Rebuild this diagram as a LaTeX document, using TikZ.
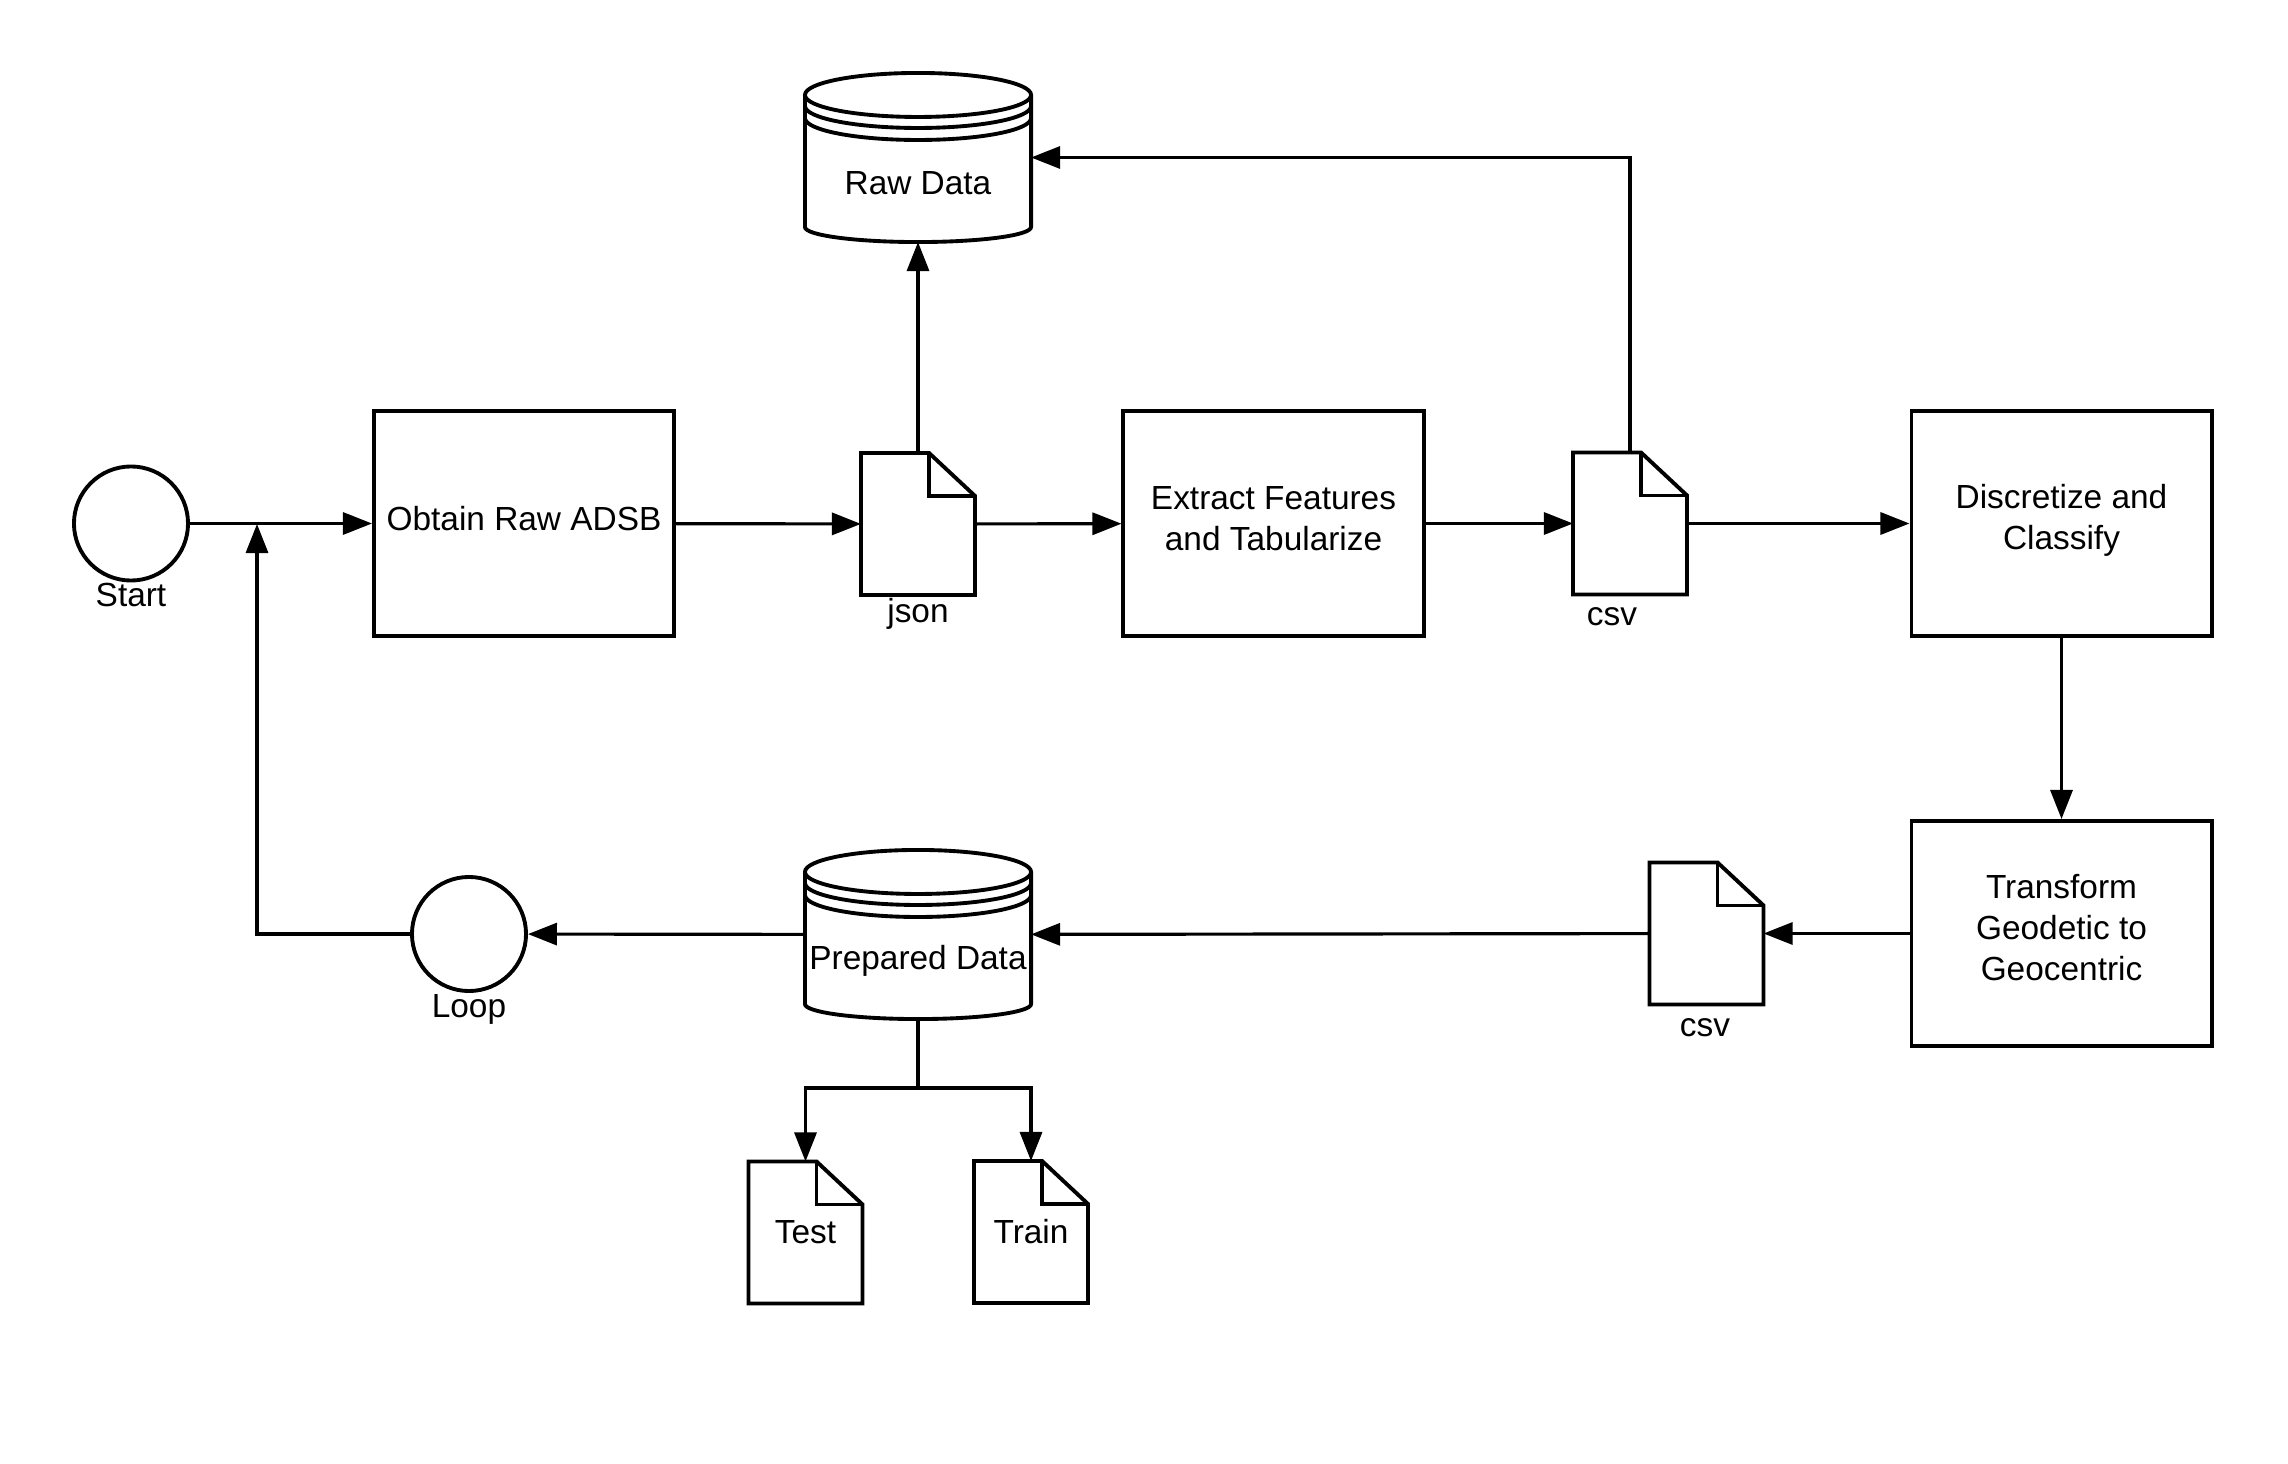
\documentclass[tikz,border=0pt]{standalone}
\usepackage{fontspec}
\setmainfont{Liberation Sans}
\usetikzlibrary{arrows.meta,calc}

\tikzset{
  txt/.style={font=\fontsize{9.5}{11.7}\selectfont, align=center},
  shapeline/.style={line width=1.1pt, line join=miter},
  procbox/.style={shapeline, draw, rectangle, minimum width=3.0cm, minimum height=2.25cm, inner sep=0pt},
  event/.style={shapeline, draw, circle, minimum size=1.14cm, inner sep=0pt},
  docnode/.style={txt, rectangle, minimum width=1.14cm, minimum height=1.42cm, inner sep=0pt, outer sep=0pt},
  dbnode/.style={rectangle, minimum width=2.26cm, minimum height=1.69cm, inner sep=0pt, outer sep=0pt},
  lbl/.style={txt, inner sep=0pt},
  conn/.style={line width=0.9pt, -{Triangle[length=0.29cm, width=0.22cm]}},
  plain/.style={line width=0.9pt},
}

% page-style document with a folded corner
\newcommand\docoutline[1]{%
  \draw[shapeline, fill=white] (#1.north west) -- ($(#1.north east)+(-0.46cm,0)$)
     -- ($(#1.north east)+(0,-0.43cm)$) -- (#1.south east) -- (#1.south west) -- cycle;
  \draw[shapeline] ($(#1.north east)+(-0.46cm,0)$) -- ($(#1.north east)+(-0.46cm,-0.43cm)$)
     -- ($(#1.north east)+(0,-0.43cm)$);
}

% stacked-disk database cylinder
\newcommand\dboutline[1]{%
  \draw[shapeline, fill=white] ($(#1.north west)+(0,-0.22cm)$) -- ($(#1.south west)+(0,0.15cm)$)
     arc[start angle=180, end angle=360, x radius=1.13cm, y radius=0.15cm]
     -- ($(#1.north east)+(0,-0.22cm)$)
     arc[start angle=0, end angle=180, x radius=1.13cm, y radius=0.22cm]
     arc[start angle=180, end angle=360, x radius=1.13cm, y radius=0.22cm];
  \draw[shapeline] ($(#1.north west)+(0,-0.33cm)$)
     arc[start angle=180, end angle=360, x radius=1.13cm, y radius=0.22cm];
  \draw[shapeline] ($(#1.north west)+(0,-0.45cm)$)
     arc[start angle=180, end angle=360, x radius=1.13cm, y radius=0.22cm];
}

\begin{document}
\begin{tikzpicture}[x=0.01cm, y=-0.01cm]
  \useasboundingbox[fill=white] (0,0) rectangle (2288,1464);

  % events
  \node[event] (start) at (131,523.5) {};
  \node[event] (loop)  at (469,934) {};
  \node[lbl] at (131,595) {Start};
  \node[lbl] at (469,1009) {Loop};

  % process steps
  \node[procbox] (obtain)  at (524,523.5)    {};
  \node[procbox] (extract) at (1273.5,523.5) {};
  \node[procbox] (disc)    at (2061.5,523.5) {};
  \node[procbox] (trans)   at (2061.5,933.5) {};
  \node[txt] at ($(obtain)+(0,0.045cm)$)  {Obtain Raw ADSB};
  \node[txt] at ($(extract)+(0,0.045cm)$) {Extract Features\\and Tabularize};
  \node[txt] at ($(disc)+(0,0.03cm)$)     {Discretize and\\Classify};
  \node[txt] at ($(trans)+(0,0.06cm)$)    {Transform\\Geodetic to\\Geocentric};

  % documents
  \node[docnode] (json)  at (918,524)      {};
  \node[docnode] (csva)  at (1630,523.5)   {};
  \node[docnode] (csvb)  at (1706.5,933.5) {};
  \node[docnode] (test)  at (805.5,1232.5) {};
  \node[docnode] (train) at (1031,1232)    {};
  \docoutline{json}
  \docoutline{csva}
  \docoutline{csvb}
  \docoutline{test}
  \docoutline{train}
  \node[txt] at (test)  {Test};
  \node[txt] at (train) {Train};
  \node[lbl] at (918,614)   {json};
  \node[lbl] at (1612,617)  {csv};
  \node[lbl] at (1705,1028) {csv};

  % data stores
  \node[dbnode] (raw)  at (918,157.5) {};
  \node[dbnode] (prep) at (918,934.5) {};
  \dboutline{raw}
  \dboutline{prep}
  \node[txt] at ($(raw)+(0,-0.255cm)$)  {Raw Data};
  \node[txt] at ($(prep)+(0,-0.26cm)$)  {Prepared Data};

  % main flow
  \draw[conn] (start) -- (obtain);
  \draw[conn] (obtain) -- (json);
  \draw[conn] (json) -- (extract);
  \draw[conn] (extract) -- (csva);
  \draw[conn] (csva) -- (disc);
  \draw[conn] (json.north) -- (raw.south);
  \draw[conn] (csva.north) |- (raw.east);
  \draw[conn] (disc) -- (trans);
  \draw[conn] (trans) -- (csvb);
  \draw[conn] (csvb) -- (prep);
  \draw[conn] (prep) -- (loop);

  % loop back to the start line
  \coordinate (join) at (257,524);
  \draw[conn] (loop.west) -| (join);

  % split of the prepared data
  \coordinate (split) at (918,1088);
  \draw[plain] (prep.south) -- (split);
  \draw[conn] (split) -| (test.north);
  \draw[conn] (split) -| (train.north);
\end{tikzpicture}
\end{document}
